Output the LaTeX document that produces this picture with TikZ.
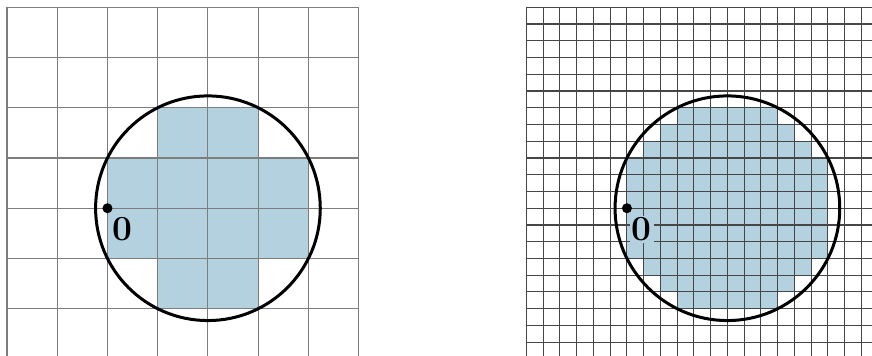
\documentclass[tikz,border=0pt]{standalone}
\usepackage{xcolor}
\usepackage{tikz}
\usetikzlibrary{positioning}
\definecolor{discfill}{RGB}{180,209,224}
\definecolor{gridcoarse}{RGB}{125,125,125}
\definecolor{gridfine}{RGB}{70,70,70}
\tikzstyle{bound} = [line width=1.7pt, black]
\tikzstyle{centre} = [circle, fill=black, minimum size=0.2cm, inner sep=0]
\tikzstyle{zerolabel} = [font=\fontsize{20}{22}\selectfont\bfseries, fill=discfill, inner sep=1pt]

\begin{document}
\begin{tikzpicture}

\useasboundingbox (0,0) rectangle (17.357,7.086);

% Left panel: coarse grid
\begin{scope}[shift={(4.139,2.941)}]
\fill[discfill] (-1,1) rectangle (1,2);
\fill[discfill] (-2,-1) rectangle (2,1);
\fill[discfill] (-1,-2) rectangle (1,-1);
\end{scope}

\begin{scope}[shift={(0.139,6.941)}]
\draw[gridcoarse, line width=0.6pt] (0,-6.941) grid[step=1] (7,0);
\end{scope}

\draw[bound] (4.139,2.941) circle (2.236);
\node[centre] (p1) at (2.139,2.941) {};
\node[zerolabel, below right=0.07cm and -0.02cm of p1] (z1) {\textbf{0}};

% Right panel: fine grid (cells a third of the size)
\begin{scope}[shift={(14.479,2.941)}, scale=1/3]
\fill[discfill] (-3,5) rectangle (3,6);
\fill[discfill] (-4,4) rectangle (4,5);
\fill[discfill] (-5,3) rectangle (5,4);
\fill[discfill] (-6,-3) rectangle (6,3);
\fill[discfill] (-5,-4) rectangle (5,-3);
\fill[discfill] (-4,-5) rectangle (4,-4);
\fill[discfill] (-3,-6) rectangle (3,-5);
\end{scope}

\begin{scope}[shift={(10.479,6.941)}, scale=1/3]
\draw[gridfine, line width=0.6pt] (0,-20.82) grid[step=1] (20.64,0);
\end{scope}

\draw[bound] (14.479,2.941) circle (2.236);
\node[centre] (p2) at (12.479,2.941) {};
\node[zerolabel, below right=0.07cm and -0.02cm of p2] (z2) {\textbf{0}};

\end{tikzpicture}
\end{document}
